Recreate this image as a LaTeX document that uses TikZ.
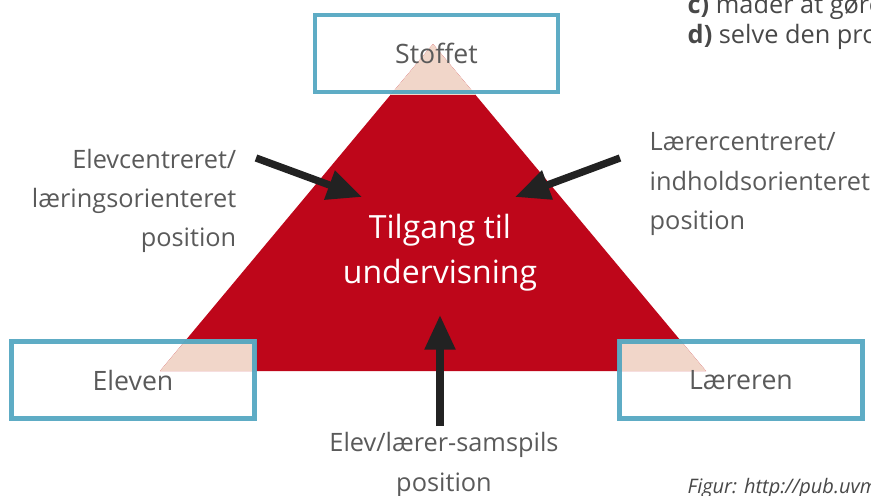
\documentclass[tikz,border=0pt]{standalone}
\usepackage{fontspec}
\setmainfont{Open Sans}
\usetikzlibrary{arrows.meta,positioning,backgrounds}
\definecolor{trired}{RGB}{190,6,26}
\definecolor{tripeach}{RGB}{241,214,201}
\definecolor{boxteal}{RGB}{76,163,191}
\definecolor{labelgrey}{RGB}{90,90,90}
\definecolor{arrowblack}{RGB}{34,34,34}
\tikzstyle{arrow} = [line width=5.5pt,-{Triangle[width=22pt,length=26pt]},color=arrowblack]
\tikzstyle{cornerbox} = [rectangle, minimum width=182pt, minimum height=58pt, draw=boxteal, draw opacity=0.9, line width=3.4pt, text=labelgrey, font=\fontsize{20}{24}\selectfont]
\tikzstyle{sidelabel} = [text=labelgrey, font=\fontsize{19}{29.5}\selectfont]
\tikzstyle{centertext} = [text=white, align=center, font=\fontsize{24}{34}\selectfont]

\begin{document}
\begin{tikzpicture}[x=0.75pt,y=-0.75pt]
\useasboundingbox (0,0) rectangle (871,496);

% Corners
\node[cornerbox] (stoffet) at (436.5,53.5) {Stoffet};
\node[cornerbox] (eleven) at (133,380) {Eleven};
\node[cornerbox] (laereren) at (741,380) {Læreren};

% Triangle
\begin{scope}[on background layer]
\fill[trired] (433,44) -- (706,371) -- (160,371) -- cycle;
\foreach \corner in {stoffet,eleven,laereren}{
  \begin{scope}
  \clip (\corner.south west) rectangle (\corner.north east);
  \fill[tripeach] (433,44) -- (706,371) -- (160,371) -- cycle;
  \end{scope}
}
\end{scope}

% Centre
\node[centertext] (access) at (440,253) {Tilgang til\\undervisning};

% Positions
\node[sidelabel, align=right, anchor=east] (elevpos) at (241,201) {Elevcentreret/\\læringsorienteret\\position};
\node[sidelabel, align=left, anchor=west] (laererpos) at (645,184) {Lærercentreret/\\indholdsorienteret\\position};
\node[sidelabel, align=center] (samspilpos) at (444,465) {Elev/lærer-samspils\\position};

\coordinate (elevtail) at (256,158);
\coordinate (elevtip) at (362,197);
\coordinate (laerertail) at (620,158);
\coordinate (laerertip) at (515,197);
\coordinate (samspiltail) at (440,426);
\coordinate (samspiltip) at (440,315);

\draw[arrow] (elevtail) -- (elevtip);
\draw[arrow] (laerertail) -- (laerertip);
\draw[arrow] (samspiltail) -- (samspiltip);

% Text cut off at the edge
\node[anchor=base west, text=labelgrey!80!black, font=\fontsize{19}{22}\selectfont] (itemc) at (683,13) {\textbf{c)} måder at gøre};
\node[anchor=base west, text=labelgrey!80!black, font=\fontsize{19}{22}\selectfont] (itemd) at (683,43) {\textbf{d)} selve den pro};
\node[anchor=base west, text=labelgrey!80!black, font=\fontsize{15}{18}\selectfont\itshape] (figur) at (683,493) {Figur: http://pub.uvm};
\end{tikzpicture}
\end{document}
